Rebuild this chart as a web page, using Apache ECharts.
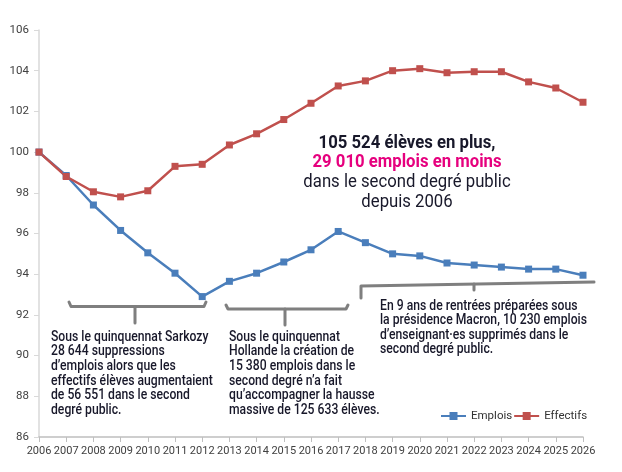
<!DOCTYPE html>
<html>
<head>
<meta charset="utf-8">
<script src="https://cdn.jsdelivr.net/npm/echarts@6/dist/echarts.min.js"></script>
<style>
  html, body { margin: 0; padding: 0; background: #fff; }
  #chart { width: 622px; height: 472px; }
</style>
</head>
<body>
<div id="chart"></div>
<script>
// years on the x axis
const years = ['2006', '2007', '2008', '2009', '2010', '2011', '2012', '2013', '2014', '2015',
  '2016', '2017', '2018', '2019', '2020', '2021', '2022', '2023', '2024', '2025', '2026'];

// index base 100 in 2006
const emplois = [100, 98.85, 97.4, 96.15, 95.05, 94.05, 92.9, 93.65, 94.05, 94.6,
  95.2, 96.1, 95.55, 95.0, 94.9, 94.55, 94.45, 94.35, 94.25, 94.25, 93.95];
const effectifs = [100, 98.8, 98.05, 97.8, 98.1, 99.3, 99.4, 100.35, 100.9, 101.6,
  102.4, 103.25, 103.5, 104.0, 104.1, 103.9, 103.95, 103.95, 103.45, 103.15, 102.45];

const titleLines = ['105 524 élèves en plus,', '29 010 emplois en moins', 'dans le second degré public', 'depuis 2006'];
const noteSarkozy = 'Sous le quinquennat Sarkozy\n28 644 suppressions\nd\u2019emplois alors que les\neffectifs élèves augmentaient\nde 56 551 dans le second\ndegré public.';
const noteHollande = 'Sous le quinquennat\nHollande la création de\n15 380 emplois dans le\nsecond degré n\u2019a fait\nqu\u2019accompagner la hausse\nmassive de 125 633 élèves.';
const noteMacron = 'En 9 ans de rentrées préparées sous\nla présidence Macron, 10 230 emplois\nd\u2019enseignant\u00b7es supprimés dans le\nsecond degré public.';

const font = 'Roboto, "Noto Sans", sans-serif';
const ink = '#18182a';
const bracketColor = '#7f7f7f';

const chart = echarts.init(document.getElementById('chart'));

function bracket(points) {
  return {
    type: 'polyline',
    shape: { points: points },
    style: { stroke: bracketColor, lineWidth: 3, fill: null, lineCap: 'round', lineJoin: 'round' },
    z: 10
  };
}

function stem(x, y1, y2) {
  return {
    type: 'line',
    shape: { x1: x, y1: y1, x2: x, y2: y2 },
    style: { stroke: bracketColor, lineWidth: 3, lineCap: 'round' },
    z: 10
  };
}

// condensed look: larger glyphs squeezed horizontally
function note(x, y, text) {
  return {
    type: 'text', x: x, y: y, z: 10, scaleX: 0.87,
    style: { text: text, font: '500 14px ' + font, fill: ink, lineHeight: 14.6, verticalAlign: 'top' }
  };
}

function headline(y, text, weight, color) {
  return {
    type: 'text', x: 407, y: y, z: 10, scaleX: 0.88,
    style: { text: text, font: weight + ' 19px ' + font, fill: color, align: 'center', verticalAlign: 'middle' }
  };
}

const option = {
  backgroundColor: '#fff',
  animation: false,
  grid: { left: 39, right: 39, top: 30, bottom: 35 },
  legend: {
    left: 440, top: 410, padding: 0,
    itemWidth: 25, itemHeight: 10, itemGap: 1,
    textStyle: { fontFamily: font, fontSize: 11.5, color: '#333' },
    data: ['Emplois', 'Effectifs']
  },
  xAxis: {
    type: 'category',
    data: years,
    boundaryGap: false,
    axisLine: { lineStyle: { color: '#bfbfbf', width: 1.5 } },
    axisTick: { show: true, alignWithLabel: true, length: 5, lineStyle: { color: '#bfbfbf' } },
    axisLabel: { interval: 0, color: '#404040', fontFamily: font, fontSize: 11, margin: 9 },
    splitLine: { show: false }
  },
  yAxis: {
    type: 'value',
    min: 86, max: 106, interval: 2,
    axisLine: { show: true, lineStyle: { color: '#d9d9d9', width: 1.5 } },
    axisTick: { show: true, length: 5, lineStyle: { color: '#d9d9d9' } },
    axisLabel: { color: '#404040', fontFamily: font, fontSize: 11.5, margin: 10 },
    splitLine: { show: false }
  },
  series: [
    {
      name: 'Emplois', type: 'line', data: emplois,
      symbol: 'rect', symbolSize: 7,
      lineStyle: { color: '#4a7ebb', width: 2.5 },
      itemStyle: { color: '#4a7ebb' }
    },
    {
      name: 'Effectifs', type: 'line', data: effectifs,
      symbol: 'rect', symbolSize: 7,
      lineStyle: { color: '#c0504d', width: 2.5 },
      itemStyle: { color: '#c0504d' }
    }
  ],
  graphic: [
    // brackets
    bracket([[69, 302], [71, 306.5], [204, 306.5], [206, 302]]),
    stem(135, 306.5, 323),
    bracket([[226, 305], [228, 309], [346, 309], [348, 305]]),
    stem(285, 309, 325),
    bracket([[361, 298], [361, 286], [594, 282]]),
    stem(474, 284, 290),
    // headline
    headline(143, titleLines[0], 'bold', ink),
    headline(162.7, titleLines[1], 'bold', '#e6007e'),
    headline(182.5, titleLines[2], 'normal', ink),
    headline(202, titleLines[3], 'normal', ink),
    // notes
    note(51, 330, noteSarkozy),
    note(229, 330, noteHollande),
    note(380, 298.7, noteMacron)
  ]
};

chart.setOption(option);
</script>
</body>
</html>
